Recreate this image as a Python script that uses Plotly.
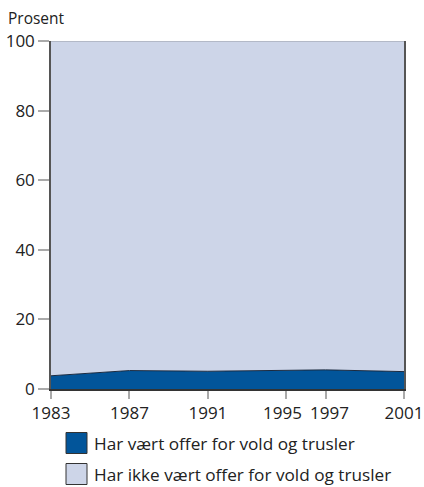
import plotly.graph_objects as go

years = [1983, 1987, 1991, 1995, 1997, 2001]
offer = [3.8, 5.3, 5.1, 5.4, 5.5, 5.0]
ikke_offer = [100 - v for v in offer]
y_ticks = [0, 20, 40, 60, 80, 100]
x_ticktext = ["1983", "1987", "1991", "", "", "2001"]
shifted_years = [1995, 1997]
shifted_px = [-3.5, 4]
labels = ["Har vært offer for vold og trusler", "Har ikke vært offer for vold og trusler"]
colors = ["#02559a", "#cdd5e8"]

FONT = "Open Sans"
L, R, T, B = 51, 20, 41, 98
W, H = 424, 487
PW, PH = W - L - R, H - T - B

fig = go.Figure()
fig.add_trace(go.Scatter(x=years, y=offer, stackgroup="s", mode="lines",
                         line=dict(color="#1a2a40", width=1), fillcolor=colors[0],
                         name=labels[0], showlegend=False))
fig.add_trace(go.Scatter(x=years, y=ikke_offer, stackgroup="s", mode="lines",
                         line=dict(color="#666666", width=0.5), fillcolor=colors[1],
                         name=labels[1], showlegend=False))

fig.update_layout(
    width=W, height=H,
    margin=dict(l=L, r=R, t=T, b=B),
    paper_bgcolor="white", plot_bgcolor="white",
    font=dict(family=FONT, size=17, color="#222222"),
    xaxis=dict(range=[1983, 2001], tickvals=years, ticktext=x_ticktext,
               ticks="outside", ticklen=8, tickcolor="#aaaaaa", tickwidth=1.5,
               tickangle=0, automargin=False,
               showgrid=False, zeroline=False, showline=True, linecolor="#333333",
               linewidth=1.5, mirror=False, tickfont=dict(size=17)),
    yaxis=dict(range=[0, 100], tickvals=y_ticks, ticks="outside", ticklen=11,
               tickcolor="#aaaaaa", tickwidth=1.5, showgrid=False, zeroline=False,
               automargin=False,
               showline=True, linecolor="#555555", linewidth=1.5, mirror=True,
               tickfont=dict(size=17)),
)

# the two close tick labels, nudged apart as in the original
for yr, dx in zip(shifted_years, shifted_px):
    fig.add_annotation(text=str(yr), xref="x", yref="paper", x=yr, y=0,
                       xshift=dx, yshift=-10, xanchor="center", yanchor="top",
                       showarrow=False, font=dict(size=17))

fig.add_annotation(text="Prosent", xref="paper", yref="paper", x=(6 - L) / PW,
                   y=(PH + T - 18) / PH, xanchor="left", yanchor="middle",
                   showarrow=False, font=dict(size=15.5))

# legend drawn manually
for i, (lab, col) in enumerate(zip(labels, colors)):
    yc = 443 + i * 31
    fig.add_shape(type="rect", xref="paper", yref="paper",
                  x0=(66 - L) / PW, x1=(87 - L) / PW,
                  y0=(T + PH - (yc + 10.5)) / PH, y1=(T + PH - (yc - 10.5)) / PH,
                  fillcolor=col, line=dict(color="#333333", width=1))
    fig.add_annotation(text=lab, xref="paper", yref="paper", x=(92 - L) / PW,
                       y=(T + PH - yc) / PH, xanchor="left", yanchor="middle",
                       showarrow=False, font=dict(size=17.2))

fig.write_html("out.html", config={"displayModeBar": False},
               post_script="document.body.style.margin='0';")
